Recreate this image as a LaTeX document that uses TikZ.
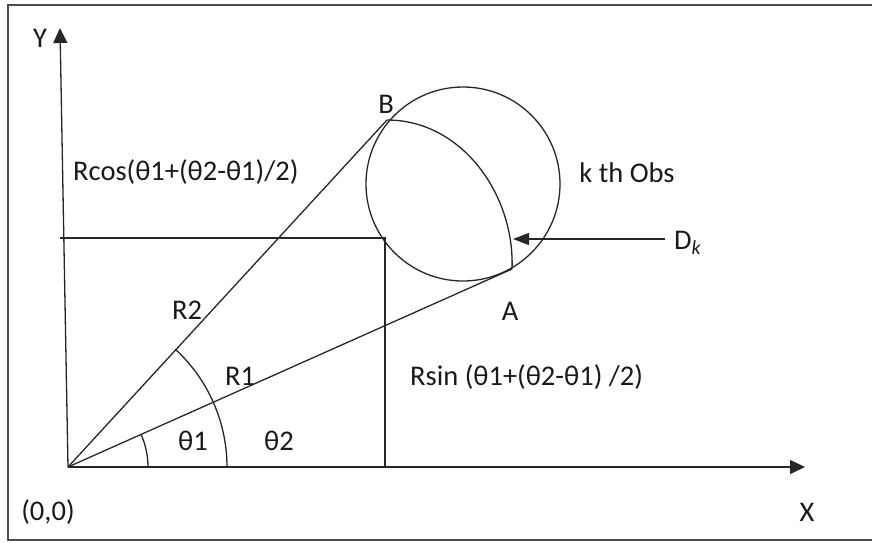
\documentclass[tikz,border=0pt]{standalone}
\usepackage{fontspec}
\setmainfont{Carlito}
\usetikzlibrary{arrows.meta}
\begin{document}
\begin{tikzpicture}[x=1pt,y=-1pt,
  ln/.style={line width=1.3pt,draw=black!85},
  axarrow/.style={ln,-{Triangle[length=15pt,width=14pt]}},
  lbl/.style={font=\fontsize{28.5}{32}\selectfont,text=black!90,inner sep=0pt}]
\useasboundingbox (0,0) rectangle (872,542);
% frame
\draw[line width=2pt,black!70] (885,4.5) -- (8,4.5) -- (8,540) -- (885,540);
% coordinates
\coordinate (O) at (68,467);
\coordinate (Ytip) at (60,28);
\coordinate (Xtip) at (805,467);
\coordinate (B) at (387,120);
\coordinate (A) at (512,269);
\coordinate (Hl) at (60,238);
\coordinate (Hr) at (385,238);
\coordinate (Vb) at (385,467);
\coordinate (Ds) at (665,239);
\coordinate (Dt) at (513,239);
\coordinate (C) at (463,184);
% axes
\draw[axarrow] (O) -- (Ytip);
\draw[axarrow] (O) -- (Xtip);
% circle
\draw[ln] (C) circle (97);
% rays
\draw[ln] (O) -- (B);
\draw[ln] (O) -- (A);
% arc B-A
\draw[ln] (B) .. controls (462,120) and (515,195) .. (A);
% horizontal and vertical lines
\draw[ln] (Hl) -- (Hr) -- (Vb);
\draw[ln,-{Triangle[length=16pt,width=12pt]}] (Ds) -- (Dt);
% angle arcs
\draw[ln] (148,467) arc[start angle=0,end angle=24,x radius=80,y radius=-80];
\draw[ln] (227,467) arc[start angle=0,end angle=47.4,x radius=160,y radius=-160];
% labels
\node[lbl] (ly) at (40,38) {Y};
\node[lbl] (lx) at (807,512) {X};
\node[lbl] (lo) at (48,512) {(0,0)};
\node[lbl,anchor=west] (lrc) at (73,172) {Rcos(θ1+(θ2-θ1)/2)};
\node[lbl] (lb) at (386,104) {B};
\node[lbl] (la) at (510,311) {A};
\node[lbl] (lk) at (627,173) {k th Obs};
\node[lbl,anchor=west] (ld) at (674,243) {D\textsubscript{\itshape k}};
\node[lbl] (lr2) at (187,310) {R2};
\node[lbl] (lr1) at (240,376) {R1};
\node[lbl,anchor=west] (lrs) at (410,377) {Rsin (θ1+(θ2-θ1) /2)};
\node[lbl] (lt1) at (193,441) {θ1};
\node[lbl] (lt2) at (279,441) {θ2};
\end{tikzpicture}
\end{document}
